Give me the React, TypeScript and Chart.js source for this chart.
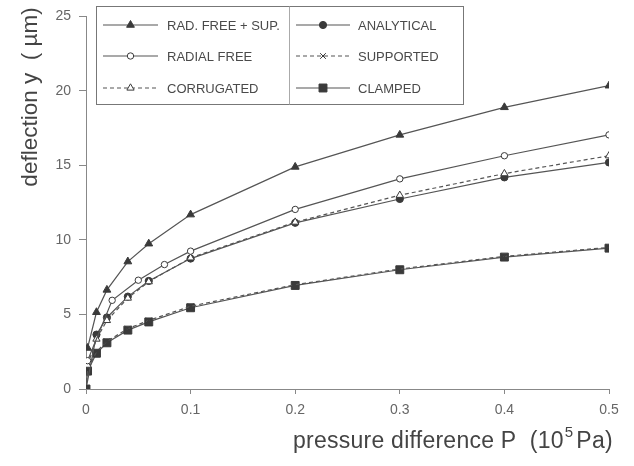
import React, { useEffect, useRef } from 'react';
import { Chart, registerables } from 'chart.js';

Chart.register(...registerables);

// ---------- data ----------
const seriesNames = ['RAD. FREE + SUP.', 'RADIAL FREE', 'CORRUGATED', 'ANALYTICAL', 'SUPPORTED', 'CLAMPED'];

const radFreeSupX = [0.0015, 0.01, 0.02, 0.04, 0.06, 0.1, 0.2, 0.3, 0.4, 0.5];
const radFreeSupY = [2.75, 5.15, 6.65, 8.55, 9.75, 11.7, 14.9, 17.05, 18.9, 20.35];

const radialFreeX = [0.0015, 0.025, 0.05, 0.075, 0.1, 0.2, 0.3, 0.4, 0.5];
const radialFreeY = [1.9, 5.95, 7.3, 8.35, 9.25, 12.05, 14.1, 15.65, 17.05];

const corrugatedX = [0.0015, 0.01, 0.02, 0.04, 0.06, 0.1, 0.2, 0.3, 0.4, 0.5];
const corrugatedY = [1.6, 3.35, 4.6, 6.1, 7.2, 8.8, 11.2, 13.0, 14.45, 15.65];

const analyticalX = [0, 0.01, 0.02, 0.04, 0.06, 0.1, 0.2, 0.3, 0.4, 0.5];
const analyticalY = [0, 3.65, 4.8, 6.2, 7.25, 8.75, 11.15, 12.75, 14.2, 15.2];

const supportedX = [0, 0.0015, 0.01, 0.02, 0.04, 0.06, 0.1, 0.2, 0.3, 0.4, 0.5];
const supportedY = [0, 1.25, 2.5, 3.2, 4.05, 4.6, 5.55, 7.0, 8.05, 8.9, 9.5];

const clampedX = [0, 0.0015, 0.01, 0.02, 0.04, 0.06, 0.1, 0.2, 0.3, 0.4, 0.5];
const clampedY = [0, 1.2, 2.4, 3.1, 3.95, 4.5, 5.45, 6.95, 8.0, 8.85, 9.45];

const xTickValues = [0, 0.1, 0.2, 0.3, 0.4, 0.5];
const xTickLabels = ['0', '0.1', '0.2', '0.3', '0.4', '0.5'];
const yTickValues = [0, 5, 10, 15, 20, 25];
const yTickLabels = ['0', '5', '10', '15', '20', '25'];

const xTitleMain = 'pressure difference P  (10';
const xTitleSup = '5';
const xTitleEnd = 'Pa)';
const yTitle = 'deflection y  ( \u00b5m)';

// ---------- styles ----------
const LINE = '#555';
const MARK = '#3a3a3a';
const FONT = '"Liberation Sans", Arial, sans-serif';

type Style = { style: string; radius: number; fill: boolean; dash: number[] };
const styles: Style[] = [
  { style: 'triangle', radius: 4.5, fill: true, dash: [] },
  { style: 'circle', radius: 3.2, fill: false, dash: [] },
  { style: 'triangle', radius: 4.2, fill: false, dash: [4, 3] },
  { style: 'circle', radius: 3.6, fill: true, dash: [] },
  { style: 'crossRot', radius: 4, fill: false, dash: [4, 3] },
  { style: 'rect', radius: 5.6, fill: true, dash: [] },
];

const seriesX = [radFreeSupX, radialFreeX, corrugatedX, analyticalX, supportedX, clampedX];
const seriesY = [radFreeSupY, radialFreeY, corrugatedY, analyticalY, supportedY, clampedY];

function drawMarker(ctx: CanvasRenderingContext2D, s: Style, x: number, y: number) {
  const r = s.radius;
  ctx.save();
  ctx.setLineDash([]);
  ctx.lineWidth = 1;
  ctx.strokeStyle = MARK;
  ctx.fillStyle = s.fill ? MARK : '#ffffff';
  ctx.beginPath();
  if (s.style === 'triangle') {
    ctx.moveTo(x, y - r);
    ctx.lineTo(x + 0.866 * r, y + 0.5 * r);
    ctx.lineTo(x - 0.866 * r, y + 0.5 * r);
    ctx.closePath();
    ctx.fill();
    ctx.stroke();
  } else if (s.style === 'circle') {
    ctx.arc(x, y, r, 0, Math.PI * 2);
    ctx.fill();
    ctx.stroke();
  } else if (s.style === 'rect') {
    const h = Math.SQRT1_2 * r;
    ctx.rect(x - h, y - h, 2 * h, 2 * h);
    ctx.fill();
    ctx.stroke();
  } else if (s.style === 'crossRot') {
    const h = Math.SQRT1_2 * r;
    ctx.moveTo(x - h, y - h);
    ctx.lineTo(x + h, y + h);
    ctx.moveTo(x - h, y + h);
    ctx.lineTo(x + h, y - h);
    ctx.stroke();
  }
  ctx.restore();
}

const overlayPlugin = {
  id: 'overlay',
  afterDraw(chart: any) {
    const ctx: any = chart.ctx;
    ctx.save();
    // legend box
    const L = 96.5, R = 463.5, T = 6.5, B = 104.5, D = 289.5;
    ctx.strokeStyle = '#777';
    ctx.lineWidth = 1;
    ctx.setLineDash([]);
    ctx.strokeRect(L, T, R - L, B - T);
    ctx.beginPath();
    ctx.moveTo(D, T);
    ctx.lineTo(D, B);
    ctx.strokeStyle = '#aaa';
    ctx.stroke();
    const rows = [25, 56, 88];
    const cols = [
      { x0: 103, x1: 158, text: 167 },
      { x0: 296, x1: 350, text: 358 },
    ];
    ctx.font = `13px ${FONT}`;
    ctx.textBaseline = 'middle';
    ctx.textAlign = 'left';
    seriesNames.forEach((name, i) => {
      const c = cols[Math.floor(i / 3)];
      const y = rows[i % 3];
      const s = styles[i];
      ctx.save();
      ctx.strokeStyle = LINE;
      ctx.lineWidth = 1.2;
      ctx.setLineDash(s.dash);
      ctx.beginPath();
      ctx.moveTo(c.x0, y);
      ctx.lineTo(c.x1, y);
      ctx.stroke();
      ctx.restore();
      drawMarker(ctx, s, (c.x0 + c.x1) / 2, y);
      ctx.fillStyle = '#4a4a4a';
      ctx.fillText(name, c.text, y + 1);
    });

    // axis titles
    ctx.fillStyle = '#444';
    ctx.textBaseline = 'alphabetic';
    ctx.letterSpacing = '0.25px';
    ctx.font = `23px ${FONT}`;
    let x = 293;
    ctx.fillText(xTitleMain, x, 448);
    x += ctx.measureText(xTitleMain).width + 1;
    ctx.font = `15px ${FONT}`;
    ctx.fillText(xTitleSup, x, 437);
    x += ctx.measureText(xTitleSup).width + 3;
    ctx.font = `23px ${FONT}`;
    ctx.fillText(xTitleEnd, x, 448);

    ctx.save();
    ctx.letterSpacing = '0px';
    ctx.font = `22.5px ${FONT}`;
    ctx.translate(37, 97);
    ctx.rotate(-Math.PI / 2);
    ctx.textAlign = 'center';
    ctx.fillText(yTitle, 0, 0);
    ctx.restore();
    ctx.restore();
  },
};

export default function App() {
  const ref = useRef<HTMLCanvasElement>(null);
  useEffect(() => {
    if (!ref.current) return;
    const datasets = seriesNames.map((name, i) => {
      const s = styles[i];
      return {
        label: name,
        data: seriesX[i].map((xv, j) => ({ x: xv, y: seriesY[i][j] })),
        borderColor: LINE,
        borderWidth: 1.2,
        borderDash: s.dash,
        pointStyle: s.style,
        pointRadius: s.radius,
        pointBackgroundColor: s.fill ? MARK : '#ffffff',
        pointBorderColor: MARK,
        pointBorderWidth: 1,
        fill: false,
        tension: 0,
      };
    });
    const chart = new Chart(ref.current, {
      type: 'line',
      data: { datasets },
      options: {
        responsive: false,
        animation: false,
        devicePixelRatio: 1,
        layout: { padding: { top: 14, right: 25, left: 0, bottom: 0 } },
        plugins: { legend: { display: false }, tooltip: { enabled: false } },
        scales: {
          x: {
            type: 'linear',
            min: 0,
            max: 0.5,
            afterBuildTicks: (s: any) => {
              s.ticks = xTickValues.map((v) => ({ value: v }));
            },
            afterFit: (s: any) => {
              s.height = 77;
            },
            ticks: {
              callback: (_v: any, i: number) => xTickLabels[i],
              color: '#666',
              font: { size: 14, family: FONT },
              padding: 8,
              maxRotation: 0,
              autoSkip: false,
            },
            grid: { drawOnChartArea: false, drawTicks: true, tickLength: 5, color: '#888' },
            border: { display: true, color: '#888', width: 1 },
          },
          y: {
            type: 'linear',
            min: 0,
            max: 25,
            afterBuildTicks: (s: any) => {
              s.ticks = yTickValues.map((v) => ({ value: v }));
            },
            afterFit: (s: any) => {
              s.width = 86;
            },
            ticks: {
              callback: (_v: any, i: number) => yTickLabels[i],
              color: '#666',
              font: { size: 14, family: FONT },
              padding: 8,
              autoSkip: false,
            },
            grid: { drawOnChartArea: false, drawTicks: true, tickLength: 7, color: '#888' },
            border: { display: true, color: '#888', width: 1 },
          },
        },
      },
      plugins: [overlayPlugin],
    } as any);
    return () => chart.destroy();
  }, []);
  return (
    <div style={{ position: 'fixed', left: 0, top: 0, width: 634, height: 466, background: '#fff' }}>
      <canvas ref={ref} width={634} height={466} style={{ display: 'block' }} />
    </div>
  );
}
